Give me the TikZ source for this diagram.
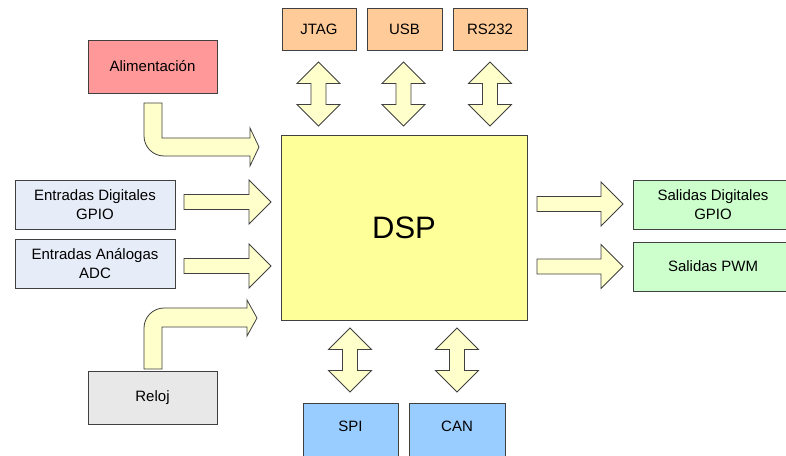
\documentclass[tikz,border=0pt]{standalone}
\usepackage{fontspec}
\setmainfont{Liberation Sans}
\definecolor{alimc}{HTML}{FF9999}
\definecolor{topc}{HTML}{FFCC99}
\definecolor{inc}{HTML}{E6ECF8}
\definecolor{outc}{HTML}{CCFFCC}
\definecolor{dspc}{HTML}{FFFF99}
\definecolor{arrc}{HTML}{FFFFCC}
\definecolor{relc}{HTML}{E8E8E8}
\definecolor{busc}{HTML}{99CCFF}
\definecolor{edgec}{HTML}{404040}
\tikzset{
  boxb/.style={draw=edgec, line width=0.8pt, rectangle, inner sep=0pt, align=center,
    font=\fontsize{15}{18.5}\selectfont},
  blockarrow/.style={draw=edgec, fill=arrc, line width=0.8pt, line join=miter}
}
\newcommand{\vdarrow}[3]{%
  \path[blockarrow] (#1,#2) -- ({#1+21.5},{#2+21.5}) -- ({#1+7.5},{#2+21.5}) -- ({#1+7.5},{#3-21.5})
   -- ({#1+21.5},{#3-21.5}) -- (#1,#3) -- ({#1-21.5},{#3-21.5}) -- ({#1-7.5},{#3-21.5})
   -- ({#1-7.5},{#2+21.5}) -- ({#1-21.5},{#2+21.5}) -- cycle;}
\newcommand{\hrarrow}[4]{%
  \path[blockarrow] (#1,{#4-7.5}) -- ({#2-22},{#4-7.5}) -- ({#2-22},{#4-22}) -- (#2,#4)
   -- ({#2-22},{#4+22}) -- ({#2-22},{#4+7.5}) -- (#1,{#4+7.5}) -- cycle;}
\begin{document}
\begin{tikzpicture}[x=1pt,y=-1pt]
\useasboundingbox (0,0) rectangle (786,455);
\clip (0,0) rectangle (786,455);
\fill[white] (0,0) rectangle (786,455);
% boxes
\node[boxb, fill=alimc, minimum width=129, minimum height=53] (alim) at (152.5,66.5) {Alimentación};
\node[boxb, fill=topc, minimum width=74, minimum height=42] (jtag) at (319,29) {JTAG};
\node[boxb, fill=topc, minimum width=75, minimum height=42] (usb) at (404.5,29) {USB};
\node[boxb, fill=topc, minimum width=74, minimum height=42] (rs) at (490,29) {RS232};
\node[boxb, fill=dspc, minimum width=246, minimum height=185, font=\fontsize{31}{36}\selectfont] (dsp) at (404,227.5) {DSP};
\node[boxb, fill=inc, minimum width=160, minimum height=49] (ed) at (95,204.5) {Entradas Digitales\\GPIO};
\node[boxb, fill=inc, minimum width=160, minimum height=49] (ea) at (95,263.5) {Entradas Análogas\\ADC};
\node[boxb, fill=outc, minimum width=160, minimum height=49] (sd) at (713,204.5) {Salidas Digitales\\GPIO};
\node[boxb, fill=outc, minimum width=160, minimum height=49] (pwm) at (713,266.5) {Salidas PWM};
\node[boxb, fill=relc, minimum width=129, minimum height=53] (reloj) at (152.5,397.5) {Reloj};
\node[boxb, fill=busc, minimum width=95, minimum height=80,
  label={[anchor=center, yshift=-24pt, font=\fontsize{15}{18}\selectfont]north:SPI}] (spi) at (350.5,443) {};
\node[boxb, fill=busc, minimum width=96, minimum height=80,
  label={[anchor=center, yshift=-24pt, font=\fontsize{15}{18}\selectfont]north:CAN}] (can) at (457,443) {};
% double arrows
\vdarrow{318.5}{62}{126}
\vdarrow{403.5}{62}{126}
\vdarrow{490}{62}{126}
\vdarrow{350}{328}{392}
\vdarrow{457}{328}{392}
% right arrows
\hrarrow{184}{271}{0}{202}
\hrarrow{184}{271}{0}{266}
\hrarrow{537}{623}{0}{204}
\hrarrow{537}{623}{0}{266.5}
% bent arrows
\path[blockarrow] (144,103) -- (162,103) -- (162,138) -- (250,138) -- (250,128) -- (259,147)
  -- (250,166) -- (250,156) -- (164,156) .. controls (153,156) and (144,147) .. (144,136) -- cycle;
\path[blockarrow] (144,369) -- (162,369) -- (162,327) -- (247,327) -- (247,336) -- (257,318)
  -- (247,300) -- (247,308) -- (164,308) .. controls (153,308) and (144,317) .. (144,328) -- cycle;
\end{tikzpicture}
\end{document}
